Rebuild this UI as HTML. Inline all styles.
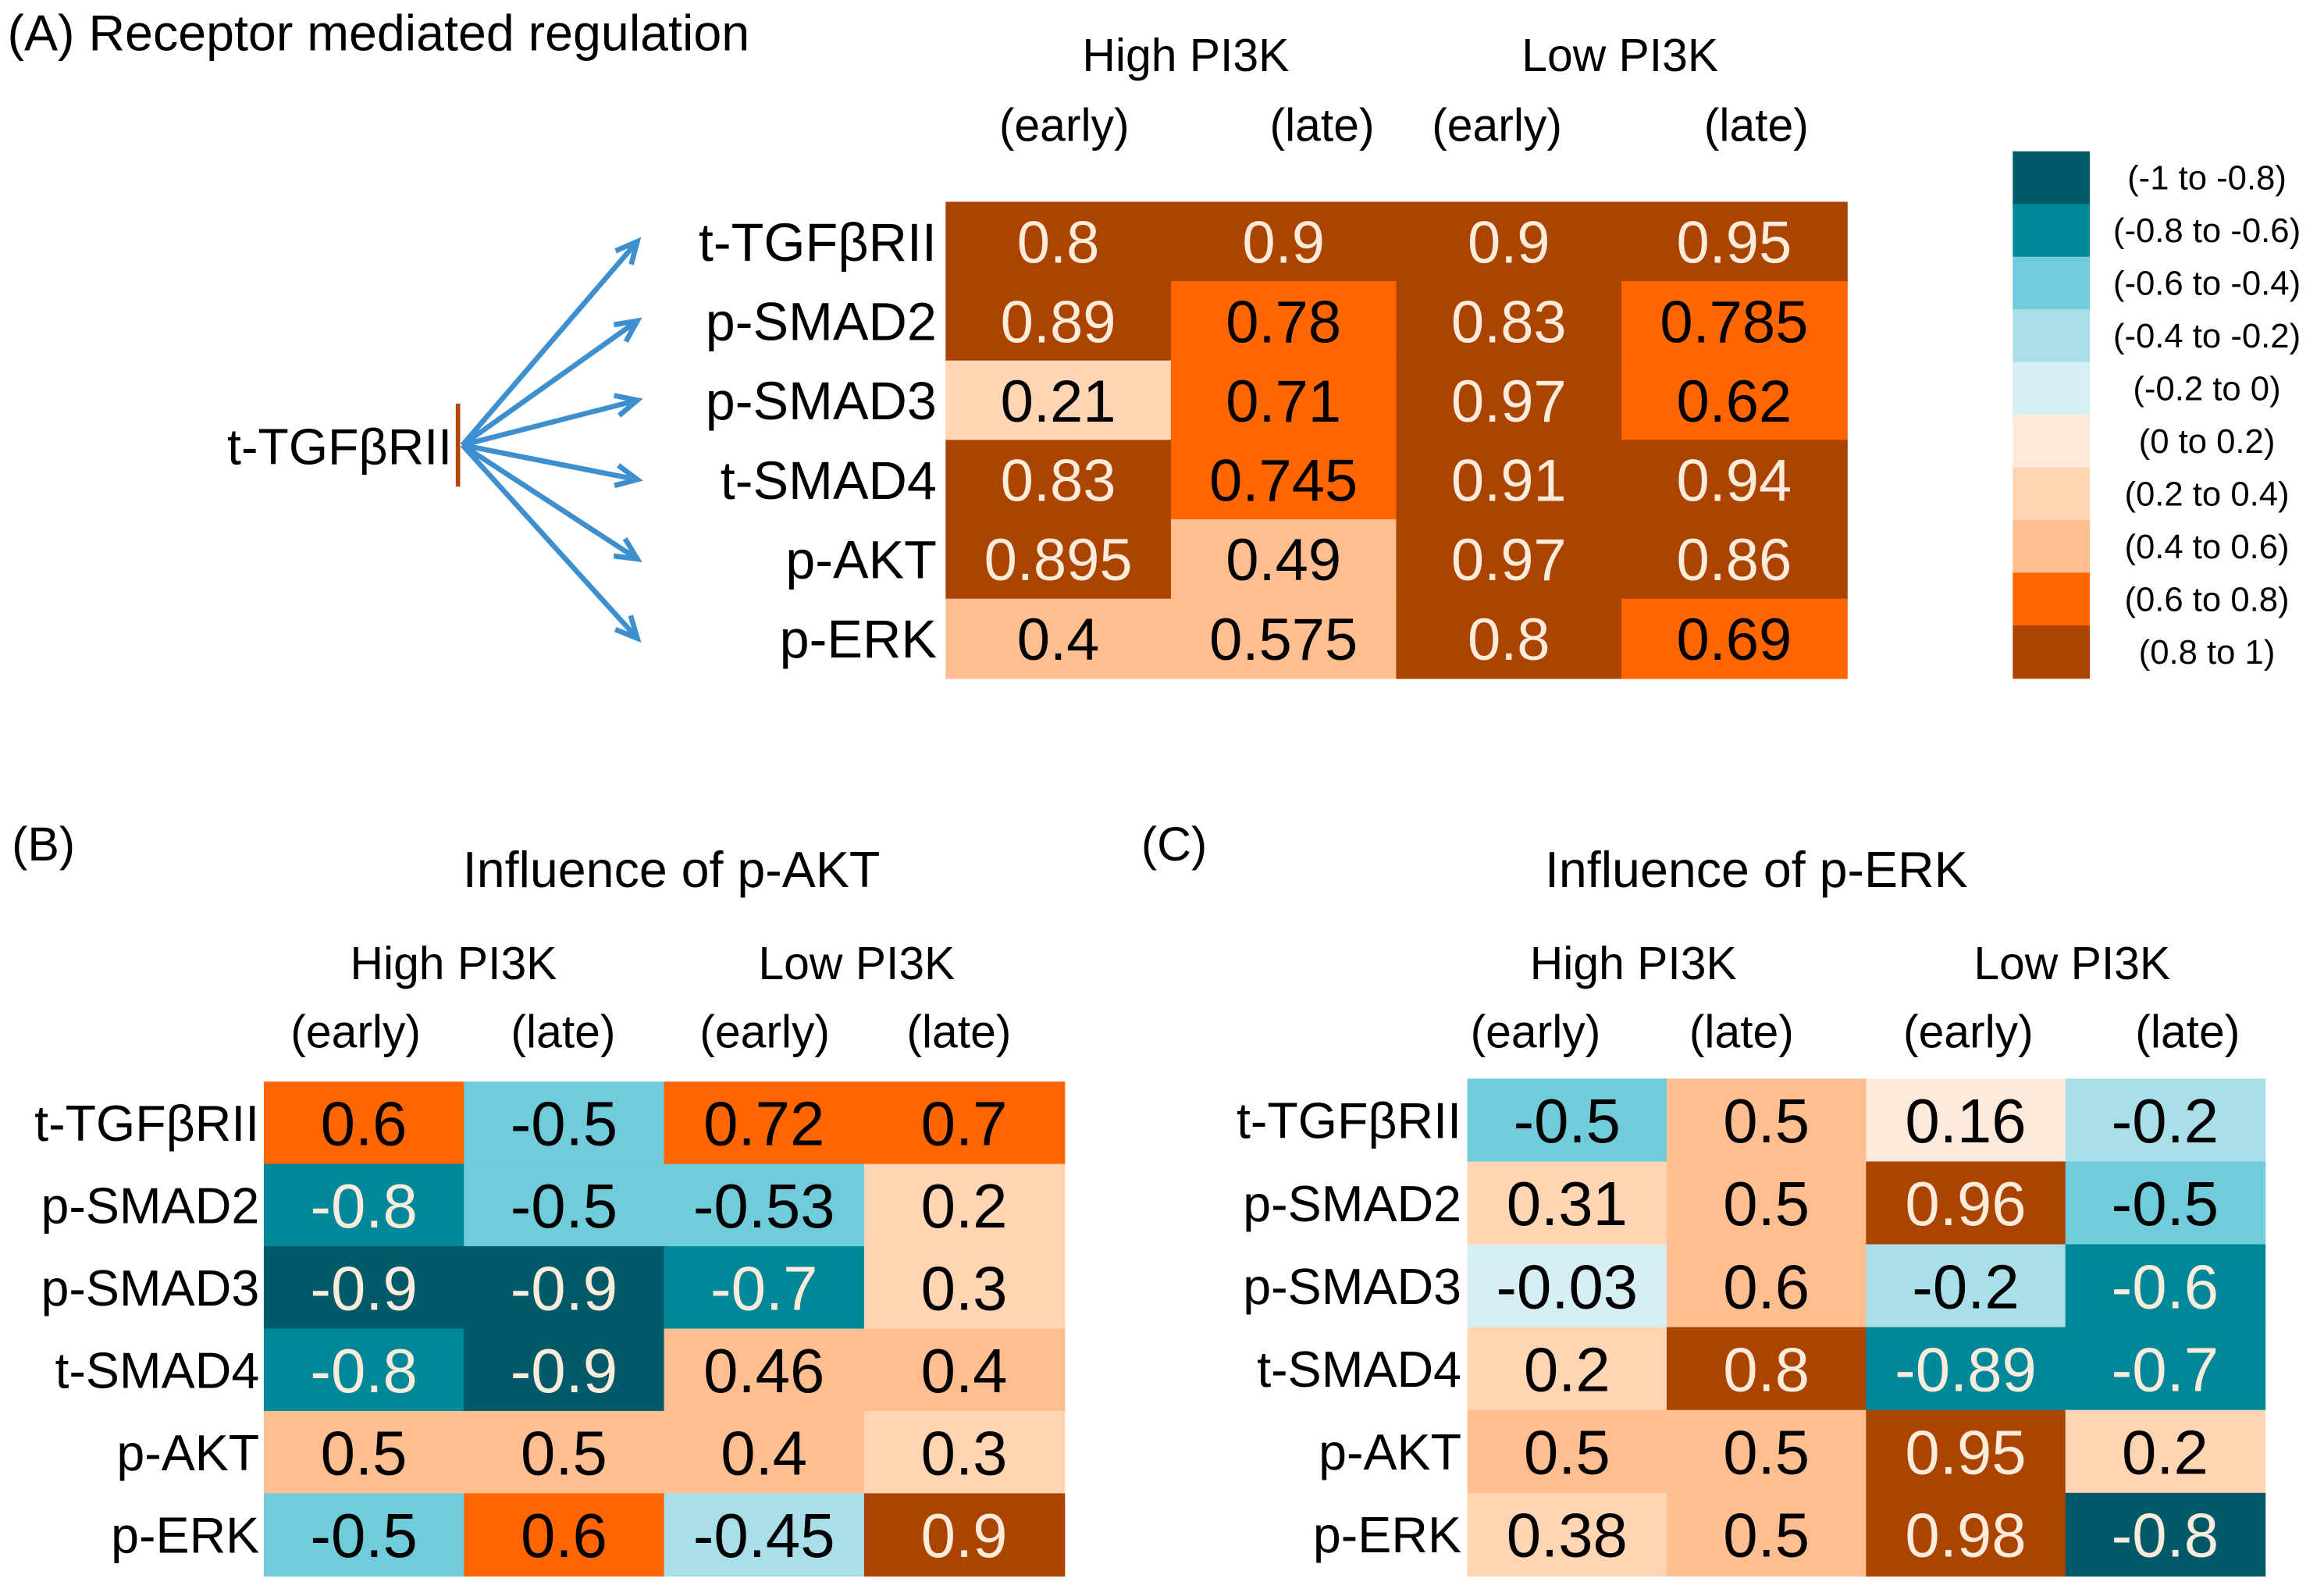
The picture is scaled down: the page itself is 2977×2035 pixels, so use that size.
<!DOCTYPE html>
<html><head><meta charset="utf-8"><style>
html,body{margin:0;padding:0;background:#fff;}
svg{display:block;}
text{font-family:"Liberation Sans",sans-serif;}
.num{font-family:"Liberation Sans Narrow","Liberation Sans",sans-serif;}
</style></head><body>
<svg id="fig" width="2977" height="2035" viewBox="0 0 1568 1071" preserveAspectRatio="none" xmlns="http://www.w3.org/2000/svg">
<g id="panelA">
<text x="5" y="34" font-size="34">(A) Receptor mediated regulation</text>
<text x="800" y="48" font-size="31" text-anchor="middle">High PI3K</text>
<text x="1093" y="48" font-size="31" text-anchor="middle">Low PI3K</text>
<text x="718" y="95" font-size="31" text-anchor="middle">(early)</text>
<text x="892" y="95" font-size="31" text-anchor="middle">(late)</text>
<text x="1010" y="95" font-size="31" text-anchor="middle">(early)</text>
<text x="1185" y="95" font-size="31" text-anchor="middle">(late)</text>
<text x="305" y="313" font-size="34" text-anchor="end">t-TGFβRII</text>
<line x1="309" y1="272" x2="309" y2="328" stroke="#b5460a" stroke-width="3"/>
<g id="arrows"></g>
</g>
<g id="panelB">
<text x="8" y="580" font-size="32">(B)</text>
<text x="453" y="598" font-size="34" text-anchor="middle">Influence of p-AKT</text>
<text x="306" y="660" font-size="31" text-anchor="middle">High PI3K</text>
<text x="578" y="660" font-size="31" text-anchor="middle">Low PI3K</text>
<text x="240" y="706" font-size="31" text-anchor="middle">(early)</text>
<text x="380" y="706" font-size="31" text-anchor="middle">(late)</text>
<text x="516" y="706" font-size="31" text-anchor="middle">(early)</text>
<text x="647" y="706" font-size="31" text-anchor="middle">(late)</text>
</g>
<g id="panelC">
<text x="770" y="580" font-size="32">(C)</text>
<text x="1185" y="598" font-size="34" text-anchor="middle">Influence of p-ERK</text>
<text x="1102" y="660" font-size="31" text-anchor="middle">High PI3K</text>
<text x="1398" y="660" font-size="31" text-anchor="middle">Low PI3K</text>
<text x="1036" y="706" font-size="31" text-anchor="middle">(early)</text>
<text x="1175" y="706" font-size="31" text-anchor="middle">(late)</text>
<text x="1328" y="706" font-size="31" text-anchor="middle">(early)</text>
<text x="1476" y="706" font-size="31" text-anchor="middle">(late)</text>
</g>
<g id="legend"></g>
</svg>
<script>
const rows = ["t-TGFβRII","p-SMAD2","p-SMAD3","t-SMAD4","p-AKT","p-ERK"];
const cols = ["High early","High late","Low early","Low late"];
const valuesA = [[0.8,0.9,0.9,0.95],[0.89,0.78,0.83,0.785],[0.21,0.71,0.97,0.62],[0.83,0.745,0.91,0.94],[0.895,0.49,0.97,0.86],[0.4,0.575,0.8,0.69]];
const valuesB = [[0.6,-0.5,0.72,0.7],[-0.8,-0.5,-0.53,0.2],[-0.9,-0.9,-0.7,0.3],[-0.8,-0.9,0.46,0.4],[0.5,0.5,0.4,0.3],[-0.5,0.6,-0.45,0.9]];
const valuesC = [[-0.5,0.5,0.16,-0.2],[0.31,0.5,0.96,-0.5],[-0.03,0.6,-0.2,-0.6],[0.2,0.8,-0.89,-0.7],[0.5,0.5,0.95,0.2],[0.38,0.5,0.98,-0.8]];
// colour-class exceptions as drawn in the original figure (null = computed from value)
const overridesB = [[null,null,null,null],[null,null,null,null],[null,null,null,null],[null,null,null,null],[null,null,null,null],[null,null,3,null]];
const overridesC = [[null,null,null,3],[null,null,null,null],[null,7,3,1],[null,null,1,null],[null,null,null,null],[null,null,null,0]];
const legendLabels = ["(-1 to -0.8)","(-0.8 to -0.6)","(-0.6 to -0.4)","(-0.4 to -0.2)","(-0.2 to 0)","(0 to 0.2)","(0.2 to 0.4)","(0.4 to 0.6)","(0.6 to 0.8)","(0.8 to 1)"];
const palette = ["#005a68","#008898","#70cbdb","#a8dfe8","#d5eff3","#ffe9db","#ffd5b4","#ffbe8f","#ff6600","#aa4400"];
const NS = "http://www.w3.org/2000/svg";
function mk(tag, attrs, parent){const e=document.createElementNS(NS,tag);for(const k in attrs)e.setAttribute(k,attrs[k]);parent.appendChild(e);return e;}
function bin(v){let i=Math.floor((v+1)/0.2+1e-9);return Math.max(0,Math.min(9,i));}
function band(x0,w,n){return i=>x0+i*w/n;}
function drawHeat(parent, values, overrides, x0, w, y0, h, labelX, labelSize, numSize){
  const xs=band(x0,w,cols.length), ys=band(y0,h,rows.length);
  const cw=w/cols.length, ch=h/rows.length;
  rows.forEach((r,ri)=>{
    const t=mk("text",{x:labelX,y:ys(ri)+ch/2+labelSize*0.36,"font-size":labelSize,"text-anchor":"end"},parent);
    t.textContent=r;
    
    
    cols.forEach((c,ci)=>{
      const v=values[ri][ci];
      const o=overrides?overrides[ri][ci]:null;
      const b=(o===null||o===undefined)?bin(v):o;
      const rc=mk("rect",{x:xs(ci),y:ys(ri),width:cw+0.6,height:ch+0.6,fill:palette[b]},parent);
      
      
      const tx=mk("text",{x:xs(ci)+cw/2,y:ys(ri)+ch/2+numSize*0.36,"font-size":numSize,"text-anchor":"middle",class:"num",fill:(b<=1||b==9)?"#fdebdc":"#000"},parent);
      tx.textContent=String(v);
      
      
    });
  });
}
drawHeat(document.getElementById("panelA"), valuesA, null, 638, 608, 136, 321, 632, 36, 40);
drawHeat(document.getElementById("panelB"), valuesB, overridesB, 178, 540, 729, 333, 175, 34, 42);
drawHeat(document.getElementById("panelC"), valuesC, overridesC, 990, 538, 727, 335, 986, 34, 42);
const ag=document.getElementById("arrows");
const ysA=band(136,321,rows.length);
rows.forEach((r,i)=>{
  const tx=430, ty=ysA(i)+321/rows.length/2;
  const sx=312, sy=300;
  const l=mk("line",{x1:sx,y1:sy,x2:tx,y2:ty,stroke:"#3d8fd0","stroke-width":3.5},ag);
  
  
  const a=Math.atan2(ty-sy,tx-sx), L=16, s=0.45;
  const p=mk("polyline",{points:`${tx-L*Math.cos(a-s)},${ty-L*Math.sin(a-s)} ${tx},${ty} ${tx-L*Math.cos(a+s)},${ty-L*Math.sin(a+s)}`,fill:"none",stroke:"#3d8fd0","stroke-width":3.5},ag);
  
  
});
const lg=document.getElementById("legend");
const lh=(457-102)/legendLabels.length;
legendLabels.forEach((lab,i)=>{
  const r=mk("rect",{x:1358,y:102+i*lh,width:52,height:lh+0.5,fill:palette[i]},lg);
  
  
  const t=mk("text",{x:1489,y:102+i*lh+lh/2+8,"font-size":23,"text-anchor":"middle"},lg);
  t.textContent=lab;
  
  
});
</script>
</body></html>
